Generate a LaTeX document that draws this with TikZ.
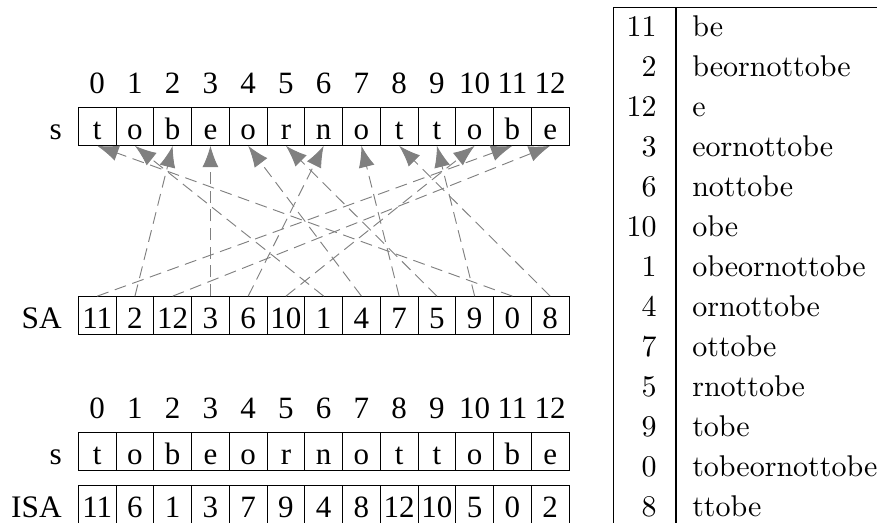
\documentclass[tikz,border=0pt]{standalone}
\usepackage{fontspec}
\newfontfamily\tms{Liberation Serif}
\newfontfamily\lmten[Extension=.otf]{lmroman10-regular}
\usetikzlibrary{arrows.meta}
\begin{document}
\begin{tikzpicture}[x=0.75pt,y=-0.75pt,
  cell/.style={draw, line width=0.8pt, minimum width=28.3125pt, inner sep=0pt,
    text height=24pt, text depth=4.5pt, font=\tms\fontsize{23.25pt}{28pt}\selectfont},
  idx/.style={anchor=base, inner sep=0pt, font=\tms\fontsize{23.25pt}{28pt}\selectfont},
  lbl/.style={anchor=base east, inner sep=0pt, font=\tms\fontsize{23.5pt}{28pt}\selectfont},
  tabnum/.style={anchor=base east, inner sep=0pt, font=\lmten\fontsize{22.5pt}{27pt}\selectfont},
  tabtxt/.style={anchor=base west, inner sep=0pt, font=\lmten\fontsize{22.5pt}{27pt}\selectfont},
  tabline/.style={line width=0.8pt},
  arr/.style={draw=black!50, line width=0.7pt, dash pattern=on 9pt off 5pt,
    -{Latex[length=16pt,width=12pt,fill=black!50]}}
]
\useasboundingbox (0,0) rectangle (877,523);
% top string
\foreach \c [count=\i from 0] in {t,o,b,e,o,r,n,o,t,t,o,b,e} {
  \node[cell] (t\i) at (97.175+37.75*\i,126.3) {\c};
  \node[idx] (ti\i) at (97.175+37.75*\i,93.3) {\i};
}
\node[lbl] (ls1) at (62,139.3) {s};
% suffix array
\foreach \v [count=\i from 0] in {11,2,12,3,6,10,1,4,7,5,9,0,8} {
  \node[cell] (sa\i) at (97.175+37.75*\i,315.7) {\v};
}
\node[lbl] (lsa) at (62,328.7) {SA};
% arrows
\foreach \v [count=\k from 0] in {11,2,12,3,6,10,1,4,7,5,9,0,8} {
  \draw[arr] (sa\k.north) -- (t\v.south);
}
% lower string
\foreach \c [count=\i from 0] in {t,o,b,e,o,r,n,o,t,t,o,b,e} {
  \node[cell] (b\i) at (97.175+37.75*\i,451.3) {\c};
  \node[idx] (bi\i) at (97.175+37.75*\i,418.3) {\i};
}
\node[lbl] (ls2) at (62,464.3) {s};
% inverse suffix array
\foreach \v [count=\i from 0] in {11,6,1,3,7,9,4,8,12,10,5,0,2} {
  \node[cell] (isa\i) at (97.175+37.75*\i,504.7) {\v};
}
\node[lbl] (lisa) at (62,517.7) {ISA};
% table
\coordinate (tl) at (613.3,7.3);
\coordinate (tr) at (877,7.3);
\coordinate (bl) at (613.3,530);
\coordinate (dt) at (676,7.3);
\coordinate (db) at (676,530);
\draw[tabline] (bl) -- (tl) -- (tr);
\draw[tabline] (dt) -- (db);
\foreach \n/\w [count=\k from 0] in {11/be,2/beornottobe,12/e,3/eornottobe,6/nottobe,10/obe,1/obeornottobe,4/ornottobe,7/ottobe,5/rnottobe,9/tobe,0/tobeornottobe,8/ttobe} {
  \node[tabnum] (n\k) at (657,36.7+40*\k) {\n};
  \node[tabtxt] (w\k) at (692,36.7+40*\k) {\w};
}
\end{tikzpicture}
\end{document}
